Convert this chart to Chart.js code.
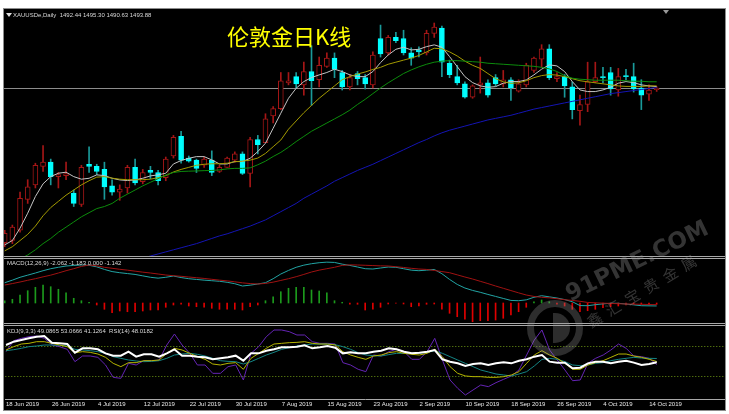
<!DOCTYPE html>
<html>
<head>
<meta charset="utf-8">
<script src="https://cdn.jsdelivr.net/npm/chart.js@4.4.0/dist/chart.umd.min.js"></script>
<style>
html, body { margin: 0; padding: 0; background: #fff; width: 729px; height: 414px; overflow: hidden; }
#frame { position: absolute; left: 3px; top: 8px; width: 723px; height: 403px; box-sizing: border-box; border: 1px solid #8c8c8c; background: #000; }
canvas { position: absolute; left: 4px; }
.sep { position: absolute; left: 4px; width: 721px; height: 1px; background: #a8a8a8; }
.lbl { position: absolute; font-family: "Liberation Sans", Arial, sans-serif; font-size: 6px; line-height: 6px; color: #d8d8d8; white-space: nowrap; }
.tri { position: absolute; width: 0; height: 0; border-left: 3px solid transparent; border-right: 3px solid transparent; }
#title { position: absolute; left: 227px; top: 24px; font-family: "Noto Sans CJK SC", sans-serif; font-size: 22px; line-height: 22px; color: #ffff00; white-space: nowrap; }
.wm { position: absolute; white-space: nowrap; color: rgba(150,150,150,0.35); transform-origin: left bottom; }
</style>
</head>
<body>
<div id="frame"></div>
<canvas id="main" width="721" height="247" style="top:9px"></canvas>
<div class="sep" style="top:256px"></div>
<div class="sep" style="top:258px"></div>
<canvas id="macd" width="721" height="64" style="top:259px"></canvas>
<div class="sep" style="top:323px"></div>
<div class="sep" style="top:325px"></div>
<canvas id="kdj" width="721" height="84" style="top:326px"></canvas>

<div class="tri" style="left:6px;top:13px;border-top:4px solid #e0e0e0"></div>
<div class="lbl" style="left:13px;top:12px">XAUUSDe,Daily&nbsp; 1492.44 1495.30 1490.63 1493.88</div>
<div class="tri" style="left:663px;top:10px;border-top:4px solid #9a9a9a"></div>
<div id="title">伦敦金日K线</div>
<div class="lbl" style="left:7px;top:260px">MACD(12,26,9) -2.062 -1.183 0.000 -1.142</div>
<div class="lbl" style="left:7px;top:328px">KDJ(9,3,3) 49.0865 53.0666 41.1264&nbsp; RSI(14) 48.0182</div>

<div style="position:absolute;left:527px;top:300px;width:56px;height:56px;box-sizing:border-box;border-radius:50%;border:7px solid rgba(150,150,150,0.3)"></div>
<div style="position:absolute;left:553px;top:313px;width:17px;height:30px;border-radius:0 15px 15px 0;background:rgba(150,150,150,0.3)"></div>
<div class="wm" style="left:572px;top:281px;font:bold 23px 'DejaVu Sans';line-height:24px;transform:rotate(-26deg)">91PME.COM</div>
<div class="wm" style="left:592px;top:314px;font:15px 'Noto Sans CJK SC';line-height:16px;letter-spacing:7px;transform:rotate(-31deg)">鑫汇宝贵金属</div>

<script>
// daily bars 18 Jun 2019 .. 15 Oct 2019 (index 0..85)
const opens = [1344,1346,1356,1386,1400,1418,1422,1408,1409,1392,1381,1420,1418,1415,1399,1393,1397,1417,1403,1414,1412,1407,1428,1447,1426,1424,1419,1424,1413,1417,1424,1430,1411,1444,1441,1467,1474,1499,1505,1497,1510,1502,1515,1523,1509,1495,1508,1504,1497,1542,1528,1543,1542,1528,1531,1528,1547,1552,1518,1505,1498,1485,1497,1499,1504,1498,1502,1491,1497,1511,1522,1532,1503,1505,1495,1472,1478,1500,1505,1509,1492,1506,1505,1494,1488,1492.44];
const highs = [1356,1361,1393,1405,1421,1438,1425,1412,1422,1395,1419,1437,1420,1422,1405,1400,1419,1425,1415,1418,1414,1427,1448,1452,1428,1425,1427,1433,1419,1427,1432,1432,1446,1448,1469,1476,1509,1509,1509,1519,1535,1524,1528,1528,1511,1507,1510,1507,1529,1555,1545,1548,1550,1533,1534,1550,1557,1554,1521,1516,1500,1497,1524,1502,1507,1511,1504,1502,1518,1524,1536,1536,1509,1507,1500,1487,1519,1519,1514,1514,1513,1512,1518,1502,1497,1495.30];
const lows = [1340,1343,1354,1382,1397,1413,1400,1397,1405,1379,1379,1412,1410,1386,1390,1385,1392,1400,1401,1406,1400,1404,1426,1421,1422,1412,1417,1409,1412,1417,1422,1410,1398,1430,1441,1460,1473,1497,1494,1487,1477,1495,1514,1504,1492,1492,1497,1493,1494,1524,1526,1538,1526,1516,1524,1526,1543,1505,1504,1497,1484,1484,1489,1485,1496,1495,1482,1490,1495,1509,1514,1502,1500,1485,1464,1458,1471,1499,1499,1487,1486,1502,1490,1473,1482,1490.63];
const closes = [1353,1359,1387,1398,1419,1422,1408,1410,1411,1382,1417,1418,1413,1398,1393,1396,1417,1402,1412,1412,1404,1425,1446,1424,1423,1416,1425,1412,1417,1426,1430,1411,1444,1439,1464,1474,1501,1501,1498,1510,1501,1516,1523,1512,1495,1504,1503,1498,1526,1527,1543,1540,1528,1523,1529,1547,1553,1519,1507,1499,1485,1496,1499,1487,1498,1502,1494,1498,1516,1523,1532,1504,1505,1496,1473,1478,1500,1504,1504,1493,1505,1505,1493,1487,1492,1493.88];

// moving averages on the price panel
const maWhite = [1341.8,1346,1358,1372.5,1388.7,1401,1408,1411.3,1412.3,1408,1405.5,1406.4,1409.7,1409,1406.4,1404.8,1404.2,1404.8,1406.4,1408.7,1409.7,1411.3,1420.3,1423.6,1425.8,1427.4,1427.4,1424.2,1420.3,1420.3,1422.6,1422.6,1425.8,1432.3,1440.4,1454.9,1469.5,1484,1493.7,1500.2,1504.1,1506.7,1509,1512.2,1509.9,1506.7,1505,1505,1509.9,1518.6,1526,1531.5,1533.5,1530.9,1531.5,1534.1,1535.8,1533.5,1524.4,1514.7,1505,1499.2,1496,1494.7,1495.3,1498.6,1500.2,1500.2,1501.8,1506.7,1512.2,1516.4,1515.4,1509.9,1500.2,1492.1,1490.5,1490.5,1492.1,1494.7,1498.6,1500.2,1499.2,1497,1496,1495.3];
const maOlive = [1336,1340,1346,1352,1360,1370,1378,1384,1390,1395,1400,1404,1407.5,1408,1406.5,1405.5,1405,1405,1405,1405.5,1407,1409,1412.5,1415,1417,1419,1420,1420.5,1420.5,1421,1422.5,1423,1424,1426,1430.5,1437,1443.5,1454,1462,1470,1477,1484,1490,1496,1502,1505,1507.5,1509.5,1512,1514,1517,1519,1521,1523,1525.5,1529,1532.5,1532,1529,1525,1520,1516,1513,1508,1503,1500,1498.5,1499,1501,1504,1506,1507,1506.5,1505,1503,1501,1500,1499,1498,1497,1496,1495.5,1495.5,1495.5,1496,1496];
const maGreen = [1318,1323,1328,1332,1337,1343,1348,1354,1359,1364,1369,1373,1377,1379,1382,1387,1391,1395,1399,1402.5,1406,1409.5,1412,1413,1413.3,1413.5,1413.8,1414,1414.5,1415.5,1416,1416,1416.5,1419.5,1423,1427.5,1431.5,1436.5,1442,1447,1452,1456,1460,1464,1468,1472.5,1478,1483,1488.5,1494,1499,1503.5,1508,1511.5,1514.5,1517,1519,1520,1520.5,1520.5,1520,1519.5,1519,1518,1517.5,1517,1516.5,1516,1515.5,1515,1514,1512.5,1510,1506,1503.5,1502.5,1502,1501.5,1501.5,1501.5,1501.5,1501,1500.5,1500.5,1500,1500];
const maBlue = [null,null,null,null,null,null,null,null,null,null,null,null,null,null,null,null,null,1327,1329,1331,1333,1335,1337,1339,1341,1343,1345.5,1348,1350.5,1352.5,1355,1357.5,1360,1363,1366,1370,1374,1378,1382,1387,1391,1395,1399,1403.5,1407,1410.5,1414,1417,1420,1423.5,1427,1430.5,1434,1437.5,1441,1444,1447.5,1450.5,1453,1455,1457,1459,1461,1463,1464.5,1466,1467.5,1469.5,1471.5,1473.5,1475,1476.5,1478,1479.5,1481,1482.5,1484,1485.5,1487,1488.5,1489.5,1490.5,1491.5,1492.5,1493.5,1494.5];

// MACD panel
const macdLine = [14.2,16,18,19.5,21,22.6,24,25,25.9,26.3,26.6,26.4,25.3,23.5,22,21.2,20.6,20,19,18,17.4,18,18.9,17.8,17,16.5,16,15.6,15.2,14.5,13.5,11.9,12.5,13.3,14.2,17,20.3,22.8,25,26.5,27.5,28.2,28.6,28.4,27.2,26.3,25.2,24,23.8,24.5,25.2,25,24,23,22.6,23,23.5,20.5,16.5,13,10.5,8.8,7.5,6,4.6,3.2,1.8,1.6,2.2,4,5.1,4.3,3.5,2.4,0.9,-1.8,-1.9,-1.2,-0.6,-0.2,-0.2,-0.7,-1.3,-1.9,-2,-2.06];
const signalLine = [12.6,13.6,14.7,15.9,17,18.3,19.5,21,22.6,24,25.6,26.6,26,25,24.3,23.6,23,22.3,21.6,21,20.3,19.6,19.1,18.7,18.2,17.7,17.2,16.6,16,15.5,14.8,14.1,13.6,13.3,13.7,14.6,15.8,17,18.4,20,21.7,23,24,25,26.3,26.7,26.6,26.4,26.2,26,25.9,25.4,24.9,24.3,23.8,23.5,22.8,22,21.2,19.7,18.2,16.8,15.2,13.6,11.9,10.3,8.7,7.1,5.6,4.6,4,3.6,3,2.3,1.8,1.2,0.4,0.1,-0.1,-0.3,-0.5,-0.7,-0.8,-0.9,-1.05,-1.18];
const macdHist = [1.6,2.6,5.6,8.6,11,12.6,11.4,9.6,7.2,3.3,1.6,0.5,-1.4,-4.4,-6.8,-5.6,-6.1,-6.1,-5.6,-4.9,-4.9,-3,-1.4,-0.9,-2.1,-2.6,-3,-3.7,-4.4,-4.4,-4.4,-4.9,-2.6,-1.4,1.6,4.4,7.9,10.3,11,11,9.1,8.4,7.2,1.6,0.5,-0.9,-0.9,-4.9,-4.4,-3,-0.7,-0.2,-0.7,-2.6,-2.1,-0.9,-0.7,-4.4,-7.2,-9.6,-11.4,-13.1,-12.4,-12.4,-11.9,-10.7,-8.4,-6.1,-3,0.9,2.1,0.9,-0.9,-2.1,-4.4,-6.1,-5.4,-4.4,-3.3,-2.6,-2.1,-1.4,-0.7,-0.9,-1.4,-0.9];

// KDJ + RSI panel
const kLine = [64.3,68.7,72.2,73.1,75.3,75.3,73.1,70.9,68.7,60.8,62.1,61.2,59,54.6,46.7,42.3,47.6,47.6,50.2,50.2,51.1,59.9,66.5,64.3,59.9,55.5,52,45.8,44.5,46.7,47.6,38.8,53.3,59.9,66.5,72.2,73.1,74,74.4,75.3,73.1,72.2,72.2,70.9,62.1,57.7,54.6,52,56.4,57.7,60.8,62.1,59.9,58.6,57.7,59.9,65.2,55.5,42.3,33.5,30,29.1,29.1,28.2,28.2,29.1,31.3,35.7,46.7,57.7,63.4,57.7,53.3,46.7,38.8,38.8,44.5,47.6,50.2,54.6,59,59,56.4,54.6,52,49.1];
const dLine = [63.4,64.7,66.5,68.7,69.6,70.9,70.9,70.5,69.6,65.2,64.3,63.4,62.1,59.9,55.5,53.3,51.1,49.8,48.9,49.3,50.2,53.3,57.7,59,59.9,58.6,56.4,53.3,50.2,49.3,48.9,45.8,48.9,53.3,57.7,61.2,65.2,67.4,69.6,70.9,72.2,72.2,72.2,71.3,68.7,65.2,60.8,57.7,56.8,56.4,58.2,59.9,59.9,59.9,60.3,60.8,63.4,59.9,55.5,51.1,46.7,42.3,37.9,35.3,32.6,31.3,30,32.6,35.7,43.2,51.9,53.3,52,48.9,44.5,43.6,44.5,46.7,47.6,50.2,52,53.3,54.6,53.7,53.3,53.1];
const jLine = [62.1,76.6,79.7,81.9,82.8,79.7,70.9,68.7,65.2,48.9,56.4,56.4,54.6,44.5,28.2,26.9,46.7,44.5,50.2,50.2,51.1,70.9,85.4,70.9,59.9,44.5,44.5,33.5,33.5,42.3,44.5,24.7,59.9,68.7,81.9,90.7,90.7,88.5,84.1,84.1,75.3,73.1,73.1,72.2,47.6,44.5,38.8,35.7,57.7,56.4,62.1,65.2,62.1,52,52,62.1,79.7,51.1,24.7,13.7,4.9,11.5,18.1,15.9,21.2,25.6,30,37.9,57.7,77.5,90.7,64.3,51.1,37.9,23.8,24.7,46.7,53.3,57.7,64.3,72.2,66.5,56.4,55.5,53.3,45];
const rsiLine = [70.9,75.3,77.5,79.7,81.9,82.8,74,73.1,72.2,60.8,66.5,66.5,65.2,59.9,56.8,56.8,62.1,55.5,58.6,58.6,55.5,59.9,65.2,56.8,56.8,55.5,54.6,52,53.3,54.6,56.8,50.2,59.9,59.9,63.4,65.2,67.8,67.8,68.7,70.5,66.5,67.8,69.6,67.4,59.9,61.2,59.9,59.9,62.1,63.4,66.5,65.2,62.1,59.9,60.8,62.1,64.3,52,48.9,46.7,43.2,45.8,46.7,44.5,46.7,48,46.7,50.2,52,55.5,57.7,48.9,47.6,47.6,40.1,41,46.7,48.9,48.9,46.7,48.9,50.2,47.6,44.5,45.8,48.0];
const levels = [70, 30];

// time axis
const tickIdx = [0,6,12,18,24,30,36,42,48,54,60,66,72,78,84];
const tickLabels = ['18 Jun 2019','26 Jun 2019','4 Jul 2019','12 Jul 2019','22 Jul 2019','30 Jul 2019','7 Aug 2019','15 Aug 2019','23 Aug 2019','2 Sep 2019','10 Sep 2019','18 Sep 2019','26 Sep 2019','4 Oct 2019','14 Oct 2019'];

const X_MIN = -0.091, X_MAX = 93.91;
const UP = '#a41616', DOWN = '#00ffff', DOWN_WICK = '#1a9a9a';
const idx = closes.map((_, i) => i);
const isUp = i => closes[i] >= opens[i];

const base = {
    animation: false,
    responsive: false,
    devicePixelRatio: 1,
    events: [],
    layout: { padding: 0 },
    plugins: { legend: { display: false }, tooltip: { enabled: false } }
};

function hiddenX() {
    return { type: 'linear', min: X_MIN, max: X_MAX, display: false, offset: false, grid: { display: false } };
}

function lineSet(vals, color, width, order) {
    return {
        type: 'line',
        data: vals.map((v, i) => ({ x: i, y: v })),
        borderColor: color,
        borderWidth: width,
        pointRadius: 0,
        tension: 0,
        fill: false,
        spanGaps: false,
        order: order || 1
    };
}

// grey bid line at the last close
const bidLine = {
    id: 'bidLine',
    beforeDatasetsDraw(chart) {
        const y = Math.round(chart.scales.y.getPixelForValue(closes[closes.length - 1])) + 0.5;
        const a = chart.chartArea, ctx = chart.ctx;
        ctx.save();
        ctx.strokeStyle = '#8c8c8c';
        ctx.lineWidth = 1;
        ctx.beginPath(); ctx.moveTo(a.left, y); ctx.lineTo(a.right, y); ctx.stroke();
        ctx.restore();
    }
};

// dotted 70 / 30 levels
const levelLines = {
    id: 'levelLines',
    beforeDatasetsDraw(chart) {
        const a = chart.chartArea, ctx = chart.ctx;
        ctx.save();
        ctx.strokeStyle = '#6f9a14';
        ctx.lineWidth = 1;
        ctx.setLineDash([1, 2]);
        levels.forEach(l => {
            const y = Math.round(chart.scales.y.getPixelForValue(l)) + 0.5;
            ctx.beginPath(); ctx.moveTo(a.left, y); ctx.lineTo(a.right, y); ctx.stroke();
        });
        ctx.restore();
    }
};

new Chart(document.getElementById('main'), {
    type: 'bar',
    data: {
        datasets: [
            lineSet(maBlue, '#1414b4', 1, 1),
            lineSet(maGreen, '#0c8c0c', 1, 1),
            lineSet(maOlive, '#a39a00', 1, 1),
            lineSet(maWhite, '#c4c4c4', 1, 1),
            {
                type: 'bar',
                data: idx.map(i => ({ x: i, y: [opens[i], closes[i]] })),
                backgroundColor: idx.map(i => isUp(i) ? '#000000' : DOWN),
                borderColor: idx.map(i => isUp(i) ? UP : DOWN),
                borderWidth: 1,
                borderSkipped: false,
                barThickness: 5,
                minBarLength: 1,
                grouped: false,
                order: 3
            },
            {
                type: 'bar',
                data: idx.map(i => ({ x: i, y: [lows[i], highs[i]] })),
                backgroundColor: idx.map(i => isUp(i) ? UP : DOWN_WICK),
                barThickness: 1,
                grouped: false,
                order: 4
            }
        ]
    },
    options: {
        ...base,
        scales: {
            x: hiddenX(),
            y: { type: 'linear', min: 1331.0, max: 1570.6, display: false }
        }
    },
    plugins: [bidLine]
});

new Chart(document.getElementById('macd'), {
    type: 'bar',
    data: {
        datasets: [
            lineSet(signalLine, '#a01212', 1, 1),
            lineSet(macdLine, '#22a4a4', 1, 1),
            {
                type: 'bar',
                data: macdHist.map((v, i) => ({ x: i, y: v })),
                backgroundColor: macdHist.map(v => v >= 0 ? '#1c9a1c' : '#e00000'),
                barThickness: 1,
                grouped: false,
                order: 3
            }
        ]
    },
    options: {
        ...base,
        scales: {
            x: hiddenX(),
            y: { type: 'linear', min: -14, max: 30.8, display: false }
        }
    }
});

new Chart(document.getElementById('kdj'), {
    type: 'line',
    data: {
        datasets: [
            lineSet(rsiLine, '#ffffff', 2, 1),
            lineSet(kLine, '#b4b400', 1, 2),
            lineSet(dLine, '#148484', 1, 2),
            lineSet(jLine, '#6424b4', 1, 3)
        ]
    },
    options: {
        ...base,
        scales: {
            x: {
                type: 'linear', min: X_MIN, max: X_MAX, offset: false,
                grid: { display: false, drawTicks: false },
                border: { display: true, color: '#a8a8a8', width: 1 },
                ticks: {
                    color: '#e8e8e8',
                    font: { family: 'Liberation Sans', size: 6 },
                    align: 'start',
                    padding: 2,
                    maxRotation: 0,
                    autoSkip: false,
                    callback: v => {
                        const k = tickIdx.indexOf(v);
                        return k >= 0 ? tickLabels[k] : '';
                    }
                },
                afterBuildTicks: s => { s.ticks = tickIdx.map(v => ({ value: v })); },
                afterFit: s => { s.height = 11; }
            },
            y: { type: 'linear', min: -0.4, max: 96.0, display: false }
        }
    },
    plugins: [levelLines]
});
</script>
</body>
</html>
